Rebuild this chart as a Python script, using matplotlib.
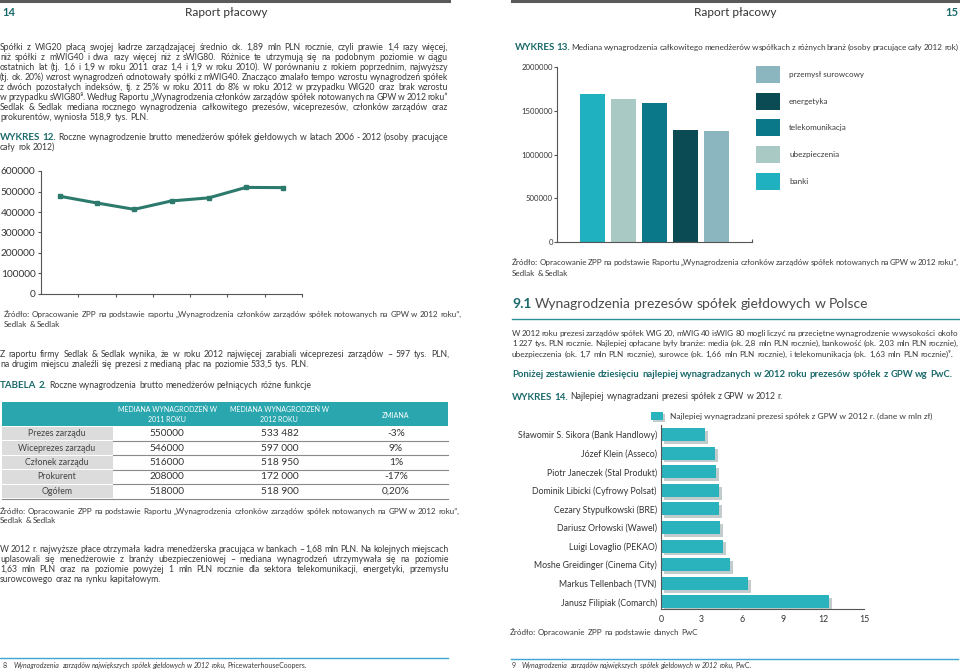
import matplotlib
matplotlib.use('Agg')
import numpy as np
import matplotlib.pyplot as plt
import matplotlib.patheffects as pe
from matplotlib.patches import Rectangle
from matplotlib.lines import Line2D

W, H = 960, 669
plt.rcParams['font.family'] = ['Lato', 'DejaVu Sans']

TXT = '#3a3a3a'
TEAL_DARK = '#1b6a6b'
TEAL = '#2aa6af'
FOOT = '#3aa8d2'

# --- dane: wykres 12 ---
lata = ['2006', '2007', '2008', '2009', '2010', '2011', '2012']
wynagrodzenie = [477000, 444000, 413000, 454000, 469000, 520000, 518900]

# --- dane: tabela 2 ---
funkcje = ['Prezes zarządu', 'Wiceprezes zarządu', 'Członek zarządu', 'Prokurent', 'Ogółem']
mediana_2011 = ['550000', '546000', '516000', '208000', '518000']
mediana_2012 = ['533 482', '597 000', '518 950', '172 000', '518 900']
zmiana = ['-3%', '9%', '1%', '-17%', '0,20%']

# --- dane: wykres 13 ---
branze = ['banki', 'ubezpieczenia', 'telekomunikacja', 'energetyka', 'przemysł surowcowy']
mediana_branze = [1690000, 1640000, 1590000, 1275000, 1270000]
kolory_branze = ['#1fb1bf', '#a9cac4', '#0b788a', '#0b4c54', '#8bb6bf']

# --- dane: wykres 14 ---
prezesi = ['Sławomir S. Sikora (Bank Handlowy)', 'Józef Klein (Asseco)',
           'Piotr Janeczek (Stal Produkt)', 'Dominik Libicki (Cyfrowy Polsat)',
           'Cezary Stypułkowski (BRE)', 'Dariusz Orłowski (Wawel)',
           'Luigi Lovaglio (PEKAO)', 'Moshe Greidinger (Cinema City)',
           'Markus Tellenbach (TVN)', 'Janusz Filipiak (Comarch)']
placa_prezesi = [3.27, 3.98, 4.06, 4.28, 4.30, 4.38, 4.57, 5.11, 6.42, 12.42]

fig = plt.figure(figsize=(W / 100, H / 100), dpi=100)
fig.patch.set_facecolor('white')
R = fig.canvas.get_renderer()


def fx(x):
    return x / W


def fy(y):
    return 1 - y / H


def words(s, **p):
    return [(w, p) for w in s.split(' ') if w]


def put(y, x0, pieces, x1=None, size=6.2):
    # slowa jako osobne teksty, opcjonalnie wyjustowane do x1
    arts, widths = [], []
    for w, p in pieces:
        kw = dict(size=size, color=TXT)
        kw.update(p)
        base = round(y + 0.5 * kw['size'])  # linia bazowa na pelnym pikselu
        t = fig.text(0, fy(base), w, va='baseline', ha='left', **kw)
        arts.append(t)
        widths.append(t.get_window_extent(R).width)
    probe = fig.text(0, 0, 'x x', size=size)
    probe2 = fig.text(0, 0, 'xx', size=size)
    gap = probe.get_window_extent(R).width - probe2.get_window_extent(R).width
    probe.remove()
    probe2.remove()
    if x1 is not None and len(arts) > 1:
        gap = (x1 - x0 - sum(widths)) / (len(arts) - 1)
    x = x0
    for t, w in zip(arts, widths):
        t.set_x(fx(x))
        x += w + gap


def hline(x0, x1, y, color, lw):
    fig.add_artist(Line2D([fx(x0), fx(x1)], [fy(y), fy(y)], color=color, lw=lw,
                          transform=fig.transFigure))


def rect(x0, y0, x1, y1, color, **kw):
    r = Rectangle((fx(x0), fy(y1)), (x1 - x0) / W, (y1 - y0) / H, facecolor=color,
                  edgecolor='none', transform=fig.transFigure, **kw)
    fig.add_artist(r)
    return r


# ---------------- naglowki stron ----------------
hline(0, 449, 1, '#5a5a5a', 2.2)
hline(512, 960, 1, '#5a5a5a', 2.2)
fig.text(fx(2), fy(13), '14', size=8, weight='bold', color=TEAL_DARK, va='center')
fig.text(fx(226), fy(13), 'Raport płacowy', size=8.5, color='#333333', va='center', ha='center')
fig.text(fx(735), fy(13), 'Raport płacowy', size=8.5, color='#333333', va='center', ha='center')
fig.text(fx(958), fy(13), '15', size=8, weight='bold', color=TEAL_DARK, va='center', ha='right')

# ---------------- strona 14 ----------------
akapit1 = [
    'Spółki z WIG20 płacą swojej kadrze zarządzającej średnio ok. 1,89 mln PLN rocznie, czyli prawie 1,4 razy więcej,',
    'niż spółki z mWIG40 i dwa razy więcej niż z sWIG80. Różnice te utrzymują się na podobnym poziomie w ciągu',
    'ostatnich lat (tj. 1,6 i 1,9 w roku 2011 oraz 1,4 i 1,9 w roku 2010). W porównaniu z rokiem poprzednim, najwyższy',
    '(tj. ok. 20%) wzrost wynagrodzeń odnotowały spółki z mWIG40. Znacząco zmalało tempo wzrostu wynagrodzeń spółek',
    'z dwóch pozostałych indeksów, tj. z 25% w roku 2011 do 8% w roku 2012 w przypadku WIG20 oraz brak wzrostu',
    'w przypadku sWIG80⁸. Według Raportu „Wynagrodzenia członków zarządów spółek notowanych na GPW w 2012 roku”',
    'Sedlak & Sedlak mediana rocznego wynagrodzenia całkowitego prezesów, wiceprezesów, członków zarządów oraz',
    'prokurentów, wyniosła 518,9 tys. PLN.',
]
for i, s in enumerate(akapit1):
    last = i == len(akapit1) - 1
    put(47 + i * 10, 0, words(s), None if last else 448)

bold_teal = dict(weight='bold', color=TEAL_DARK, size=7)
put(137, 0, words('WYKRES 12.', **bold_teal) +
    words('Roczne wynagrodzenie brutto menedżerów spółek giełdowych w latach 2006 - 2012 (osoby pracujące'), 448)
put(147, 0, words('cały rok 2012)'))

# wykres 12
ax1 = fig.add_axes([fx(41), fy(294), (302 - 41) / W, (294 - 171) / H])
x = np.arange(len(lata))
ax1.plot(x, wynagrodzenie, color='#2c7a6b', lw=2.2, marker='s', ms=3.5)
ax1.set_xlim(-0.5, len(lata) - 0.5)
ax1.set_ylim(0, 600000)
ax1.set_yticks(np.arange(0, 600001, 100000))
ax1.set_yticklabels([str(v) for v in range(0, 600001, 100000)])
ax1.set_xticks(np.arange(0.5, len(lata), 1))
ax1.set_xticklabels([])
for s in ['top', 'right']:
    ax1.spines[s].set_visible(False)
for s in ['left', 'bottom']:
    ax1.spines[s].set_color('#555555')
    ax1.spines[s].set_linewidth(0.8)
ax1.tick_params(axis='y', labelsize=7.3, labelcolor='#333333', length=2.5, width=0.8,
                color='#555555', pad=1.5)
ax1.tick_params(axis='x', length=2.5, width=0.8, color='#555555')

put(314, 4, words('Źródło: Opracowanie ZPP na podstawie raportu „Wynagrodzenia członków zarządów spółek notowanych na GPW w 2012 roku”,'), size=5.8)
put(324, 4, words('Sedlak & Sedlak'), size=5.8)

put(354, 0, words('Z raportu firmy Sedlak & Sedlak wynika, że w roku 2012 najwięcej zarabiali wiceprezesi zarządów – 597 tys. PLN,'), 449)
put(364, 0, words('na drugim miejscu znaleźli się prezesi z medianą płac na poziomie 533,5 tys. PLN.'))
put(385, 0, words('TABELA 2.', **bold_teal) +
    words('Roczne wynagrodzenia brutto menedżerów pełniących różne funkcje'))

# tabela 2
rect(2, 402, 448, 426, TEAL)
head = dict(size=5, color='white', ha='center', va='center')
fig.text(fx(167), fy(410), 'MEDIANA WYNAGRODZEŃ W', **head)
fig.text(fx(167), fy(420), '2011 ROKU', **head)
fig.text(fx(279), fy(410), 'MEDIANA WYNAGRODZEŃ W', **head)
fig.text(fx(279), fy(420), '2012 ROKU', **head)
fig.text(fx(396), fy(415), 'ZMIANA', **head)
row_h = 14.4
for i, f in enumerate(funkcje):
    y0 = 426.5 + i * row_h
    rect(2, y0 + 0.5, 113, y0 + row_h - 0.5, '#dcdcdc')
    hline(113, 448, y0 + row_h, '#8a8a8a', 0.8)
    yc = y0 + row_h / 2
    fig.text(fx(57), fy(yc), f, size=6.3, color='#444444', ha='center', va='center')
    fig.text(fx(167), fy(yc), mediana_2011[i], size=7.3, color='#333333', ha='center', va='center')
    fig.text(fx(280), fy(yc), mediana_2012[i], size=7.3, color='#333333', ha='center', va='center')
    fig.text(fx(396), fy(yc), zmiana[i], size=7.3, color='#333333', ha='center', va='center')
hline(2, 113, 426.5 + 5 * row_h, '#8a8a8a', 0.8)

put(511, 0, words('Źródło: Opracowanie ZPP na podstawie Raportu „Wynagrodzenia członków zarządów spółek notowanych na GPW w 2012 roku”,'), size=5.8)
put(520, 0, words('Sedlak & Sedlak'), size=5.8)

akapit3 = [
    'W 2012 r. najwyższe płace otrzymała kadra menedżerska pracująca w bankach – 1,68 mln PLN. Na kolejnych miejscach',
    'uplasowali się menedżerowie z branży ubezpieczeniowej – mediana wynagrodzeń utrzymywała się na poziomie',
    '1,63 mln PLN oraz na poziomie powyżej 1 mln PLN rocznie dla sektora telekomunikacji, energetyki, przemysłu',
    'surowcowego oraz na rynku kapitałowym.',
]
for i, s in enumerate(akapit3):
    last = i == len(akapit3) - 1
    put(549 + i * 10, 0, words(s), None if last else 449)

hline(0, 448, 658, FOOT, 1)
fig.text(fx(3), fy(666), '8', size=5, color=TXT, va='center')
put(666, 14, words('Wynagrodzenia zarządów największych spółek giełdowych w 2012 roku,', style='italic') +
    words('PricewaterhouseCoopers.'), size=5)

# ---------------- strona 15 ----------------
put(47, 515, words('WYKRES 13.', **bold_teal) +
    words('Mediana wynagrodzenia całkowitego menedżerów w spółkach z różnych branż (osoby pracujące cały 2012 rok)'),
    958, size=5.9)

ax2 = fig.add_axes([fx(557), fy(242), (752 - 557) / W, (242 - 67) / H])
xb = np.arange(len(branze))
ax2.bar(xb, mediana_branze, width=0.8, color=kolory_branze)
ax2.set_xlim(-1.15, 5.13)
ax2.set_ylim(0, 2000000)
ax2.set_yticks(np.arange(0, 2000001, 500000))
ax2.set_yticklabels([str(v) for v in range(0, 2000001, 500000)])
ax2.set_xticks([5.13])
ax2.set_xticklabels([''])
for s in ['top', 'right']:
    ax2.spines[s].set_visible(False)
for s in ['left', 'bottom']:
    ax2.spines[s].set_color('#555555')
    ax2.spines[s].set_linewidth(0.8)
ax2.tick_params(axis='y', labelsize=5.6, labelcolor='#333333', length=2, width=0.8,
                color='#555555', pad=1)
ax2.tick_params(axis='x', direction='in', length=2.5, width=0.8, color='#555555')

for i, (b, c) in enumerate(zip(branze[::-1], kolory_branze[::-1])):
    top = 66 + i * 26.7
    rect(756, top, 780, top + 17, c)
    fig.text(fx(789), fy(top + 8.5), b, size=5.8, color=TXT, va='center')

put(262, 512, words('Źródło: Opracowanie ZPP na podstawie Raportu „Wynagrodzenia członków zarządów spółek notowanych na GPW w 2012 roku”,'), 958, size=5.8)
put(273, 512, words('Sedlak & Sedlak'), size=5.8)

put(303, 512, words('9.1', weight='bold', color=TEAL_DARK, size=10) +
    words('Wynagrodzenia prezesów spółek giełdowych w Polsce', color='#4a4a4a', size=10),
    size=10)
hline(512, 960, 319, '#2b8f96', 1)

akapit4 = [
    'W 2012 roku prezesi zarządów spółek WIG 20, mWIG 40 i sWIG 80 mogli liczyć na przeciętne wynagrodzenie w wysokości około',
    '1 227 tys. PLN rocznie. Najlepiej opłacane były branże: media (ok. 2,8 mln PLN rocznie), bankowość (ok. 2,03 mln PLN rocznie),',
    'ubezpieczenia (ok. 1,7 mln PLN rocznie), surowce (ok. 1,66 mln PLN rocznie),  i telekomunikacja (ok. 1,63 mln PLN rocznie)⁹.',
]
for i, s in enumerate(akapit4):
    put(333 + i * 10.5, 512, words(s), 958 if i < 2 else 953, size=5.9)

put(374, 512, words('Poniżej zestawienie dziesięciu najlepiej wynagradzanych w 2012 roku prezesów spółek z GPW wg PwC.',
                    weight='bold', color=TEAL_DARK), 952, size=6.8)
put(396, 512, words('WYKRES 14.', **bold_teal) +
    words('Najlepiej wynagradzani prezesi spółek z GPW w 2012 r.'))

shadow = [pe.SimplePatchShadow(offset=(1.5, -1.5), alpha=0.25), pe.Normal()]
rect(651, 412, 663, 420, '#2bb3bd', path_effects=shadow)
fig.text(fx(670), fy(416), 'Najlepiej wynagradzani prezesi spółek z GPW w 2012 r. (dane w mln zł)',
         size=6, color=TXT, va='center')

ax3 = fig.add_axes([fx(661), fy(609), (864 - 661) / W, (609 - 425) / H])
yb = np.arange(len(prezesi))
bars = ax3.barh(yb, placa_prezesi, height=0.7, color='#2bb3bd')
for b in bars:
    b.set_path_effects([pe.SimplePatchShadow(offset=(2, -2), alpha=0.25), pe.Normal()])
ax3.set_ylim(9.38, -0.51)
ax3.set_xlim(0, 15)
ax3.set_yticks(yb)
ax3.set_yticklabels(prezesi)
ax3.set_xticks(np.arange(0, 16, 3))
ax3.set_xticks([15], minor=True)
for s in ['top', 'right']:
    ax3.spines[s].set_visible(False)
for s in ['left', 'bottom']:
    ax3.spines[s].set_color('#555555')
    ax3.spines[s].set_linewidth(0.8)
ax3.tick_params(axis='y', labelsize=6.3, labelcolor='#333333', length=0, pad=3)
ax3.tick_params(axis='x', labelsize=6.3, labelcolor='#333333', length=0, pad=4)
ax3.tick_params(axis='x', which='minor', length=5, direction='inout', width=0.8, color='#555555')

put(632, 510, words('Źródło: Opracowanie ZPP na podstawie danych PwC'), size=5.8)

hline(511, 958, 659, FOOT, 1)
fig.text(fx(512), fy(666), '9', size=5, color=TXT, va='center')
put(666, 522, words('Wynagrodzenia zarządów największych spółek giełdowych w 2012 roku,', style='italic') +
    words('PwC.'), size=5)

fig.savefig('out.png', dpi=100, facecolor='white')
